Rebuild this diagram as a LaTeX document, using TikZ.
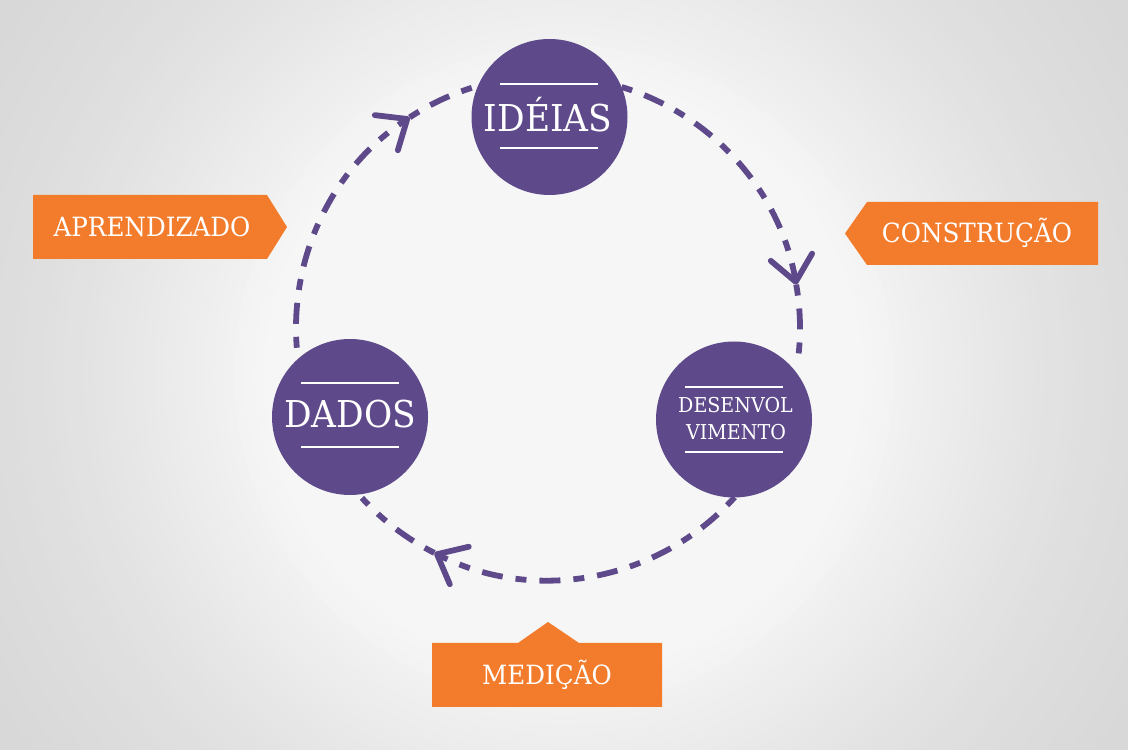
\documentclass[tikz,border=0pt]{standalone}
\usepackage{fontspec}
\setmainfont{DejaVu Serif}[FakeStretch=0.93]
\usetikzlibrary{arrows.meta,calc}
\definecolor{purp}{HTML}{5E4A8B}
\definecolor{orng}{HTML}{F37C2C}
\definecolor{bgB}{HTML}{F6F6F6}
\definecolor{bgD}{HTML}{D8D8D8}
\tikzset{
  cyc/.style={draw=purp, line width=5.8pt, dash pattern=on 11pt off 13pt on 21pt off 13pt},
  barb/.style={-{Straight Barb[length=25pt,width=42pt,round]}},
  hub/.style={circle, fill=purp, minimum size=156pt, inner sep=0pt},
  rule/.style={draw=white, line width=1.8pt},
  bigtxt/.style={text=white, anchor=base, inner sep=0pt, font=\fontsize{37}{40}\selectfont},
  smalltxt/.style={text=white, anchor=base, inner sep=0pt, font=\fontsize{20.5}{24}\selectfont},
  tagtxt/.style={text=white, anchor=base, inner sep=0pt, font=\fontsize{26.5}{30}\selectfont},
  tag/.style={fill=orng}
}
\begin{document}
\begin{tikzpicture}[x=1pt,y=1pt]
\useasboundingbox (0,0) rectangle (1128,750);
\begin{scope}
  \clip (0,0) rectangle (1128,750);
  \fill[bgD] (0,0) rectangle (1128,750);
  \foreach \i in {1,...,40}{
    \pgfmathsetmacro\rr{700-\i*10}
    \pgfmathtruncatemacro\pc{100*(\i/40)^1.6}
    \fill[bgB!\pc!bgD] (564,375) circle[radius=\rr];
  }
\end{scope}

\coordinate (C) at (548,422);

% cycle arcs
\draw[cyc, barb] ($(C)+(73:252)$) arc[start angle=73, end angle=9.9, radius=252];
\draw[cyc] ($(C)+(9.9:252)$) arc[start angle=9.9, end angle=-8.4, radius=252];
\draw[cyc, barb] ($(C)+(-42.2:252)$) arc[start angle=-42.2, end angle=-116.8, radius=252];
\draw[cyc] ($(C)+(-116.8:252)$) arc[start angle=-116.8, end angle=-137.6, radius=252];
\draw[cyc, barb] ($(C)+(184.5:252)$) arc[start angle=184.5, end angle=123.3, radius=252];
\draw[cyc] ($(C)+(123.3:252)$) arc[start angle=123.3, end angle=106, radius=252];

% hubs
\node[hub] (ide) at (549.5,633) {};
\draw[rule] (500,666) -- (598,666);
\draw[rule] (500,602) -- (598,602);
\node[bigtxt] (ideT) at (548,618) {IDÉIAS};

\node[hub] (dev) at (734,330.5) {};
\draw[rule] (685,363) -- (783,363);
\draw[rule] (685,298) -- (783,298);
\node[smalltxt] (devT1) at (735.5,337) {DESENVOL};
\node[smalltxt] (devT2) at (736,310) {VIMENTO};

\node[hub] (dad) at (350,333) {};
\draw[rule] (301,367) -- (399,367);
\draw[rule] (301,303) -- (399,303);
\node[bigtxt] (dadT) at (350,322) {DADOS};

% orange tags
\fill[tag] (33,555) -- (267,555) -- (287,523) -- (267,491) -- (33,491) -- cycle;
\node[tagtxt] (apr) at (152,513) {APRENDIZADO};

\fill[tag] (867,548) -- (1098,548) -- (1098,485) -- (867,485) -- (845,516.5) -- cycle;
\node[tagtxt] (con) at (977,507) {CONSTRUÇÃO};

\fill[tag] (432,107) -- (518,107) -- (548,128) -- (579,107) -- (662,107) -- (662,43) -- (432,43) -- cycle;
\node[tagtxt] (med) at (547,65) {MEDIÇÃO};
\end{tikzpicture}
\end{document}
